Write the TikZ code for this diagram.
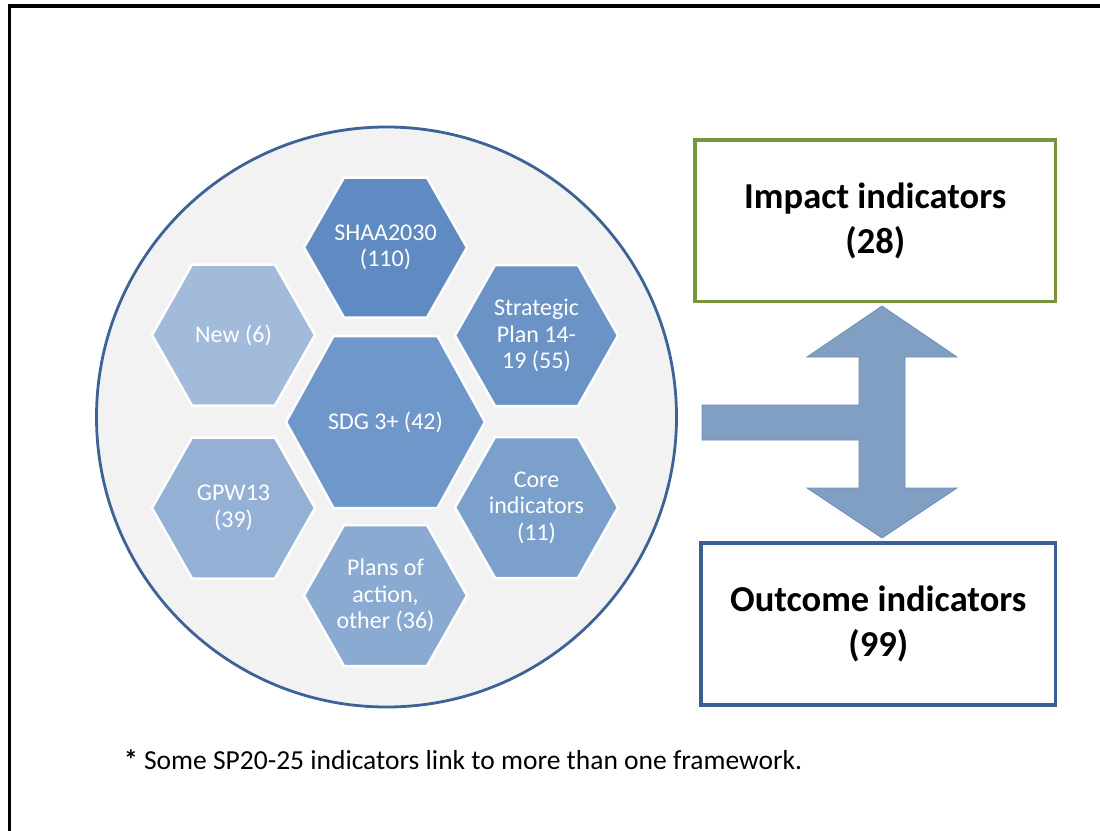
\documentclass[tikz,border=0pt]{standalone}
\usepackage{fontspec}
\setmainfont{Carlito}
\definecolor{cShaa}{HTML}{5F8BC2}
\definecolor{cSdg}{HTML}{6F97C9}
\definecolor{cStrat}{HTML}{6B93C6}
\definecolor{cCore}{HTML}{7BA0CC}
\definecolor{cPlans}{HTML}{8AAAD2}
\definecolor{cGpw}{HTML}{94B0D5}
\definecolor{cNew}{HTML}{A2BBDA}
\definecolor{circFill}{HTML}{F2F2F2}
\definecolor{circLine}{HTML}{3D6396}
\definecolor{arrFill}{HTML}{819FC2}
\definecolor{arrLine}{HTML}{6E8EBB}
\definecolor{impGreen}{HTML}{77933C}
\definecolor{outBlue}{HTML}{3A5F93}
\tikzset{
  hexshape/.style={draw=white, line width=2.5pt, line join=miter},
  hextext/.style={text=white, align=center, inner sep=0pt, font=\fontsize{24}{26.5}\selectfont},
  boxstyle/.style={draw=#1, line width=3.2pt, fill=white, align=center, inner sep=0pt,
    font=\bfseries\fontsize{36.5}{45}\selectfont},
}
\newcommand\hexcell[8]{% name, cx, cy, half width, half height, corner offset, colour, text
  \begin{scope}[shift={(#2,#3)}]
    \path[hexshape, fill=#7] (-#4,0) -- (-#4+#6,-#5) -- (#4-#6,-#5) -- (#4,0)
      -- (#4-#6,#5) -- (-#4+#6,#5) -- cycle;
  \end{scope}
  \node[hextext] (#1) at (#2,#3) {#8};
}
\begin{document}
\begin{tikzpicture}[x=1pt,y=-1pt]
\useasboundingbox (0,0) rectangle (1100,830);
\fill[white] (0,0) rectangle (1100,830);
% frame
\draw[line width=3.5pt, line cap=rect] (9.5,830) -- (9.5,6) -- (1100,6);
% big circle
\filldraw[fill=circFill, draw=circLine, line width=2.8pt] (386.5,417) circle[radius=290];
% hexagons
\hexcell{shaa}{385.5}{247.5}{81.5}{70}{40}{cShaa}{SHAA2030\\(110)}
\hexcell{new}{233.5}{335}{81.5}{70.5}{40}{cNew}{New (6)}
\hexcell{strat}{536.5}{335.5}{81.5}{70.5}{40}{cStrat}{Strategic\\Plan 14-\\19 (55)}
\hexcell{sdg}{385.5}{422}{99.5}{86}{47.5}{cSdg}{SDG 3+ (42)}
\hexcell{gpw}{233.5}{508}{81.5}{70.5}{40}{cGpw}{GPW13\\(39)}
\hexcell{core}{536.5}{507.5}{81.5}{70.5}{40}{cCore}{Core\\indicators\\(11)}
\hexcell{plans}{385.5}{595.5}{81.5}{70.5}{40}{cPlans}{Plans of\\action,\\other (36)}
% boxes
\node[boxstyle=impGreen, minimum width=360.5pt, minimum height=161.7pt] (impact)
  at (875.25,220.85) {Impact indicators\\(28)};
\node[boxstyle=outBlue, minimum width=354.5pt, minimum height=162pt] (outcome)
  at (878.25,624) {Outcome indicators\\(99)};
% block arrow
\coordinate (tipup) at (882,306);
\coordinate (tipdown) at (882,538);
\filldraw[fill=arrFill, draw=arrLine, line width=0.8pt, line join=miter]
  (702,405) -- (859,405) -- (859,357) -- (807,357) -- (tipup) -- (957,357)
  -- (905,357) -- (905,488) -- (957,488) -- (tipdown) -- (807,488)
  -- (859,488) -- (859,440) -- (702,440) -- cycle;
% footnote
\node[anchor=west, inner sep=0pt, font=\fontsize{27.5}{30}\selectfont] (note) at (124,760)
  {\textbf{*} Some SP20-25 indicators link to more than one framework.};
\end{tikzpicture}
\end{document}
